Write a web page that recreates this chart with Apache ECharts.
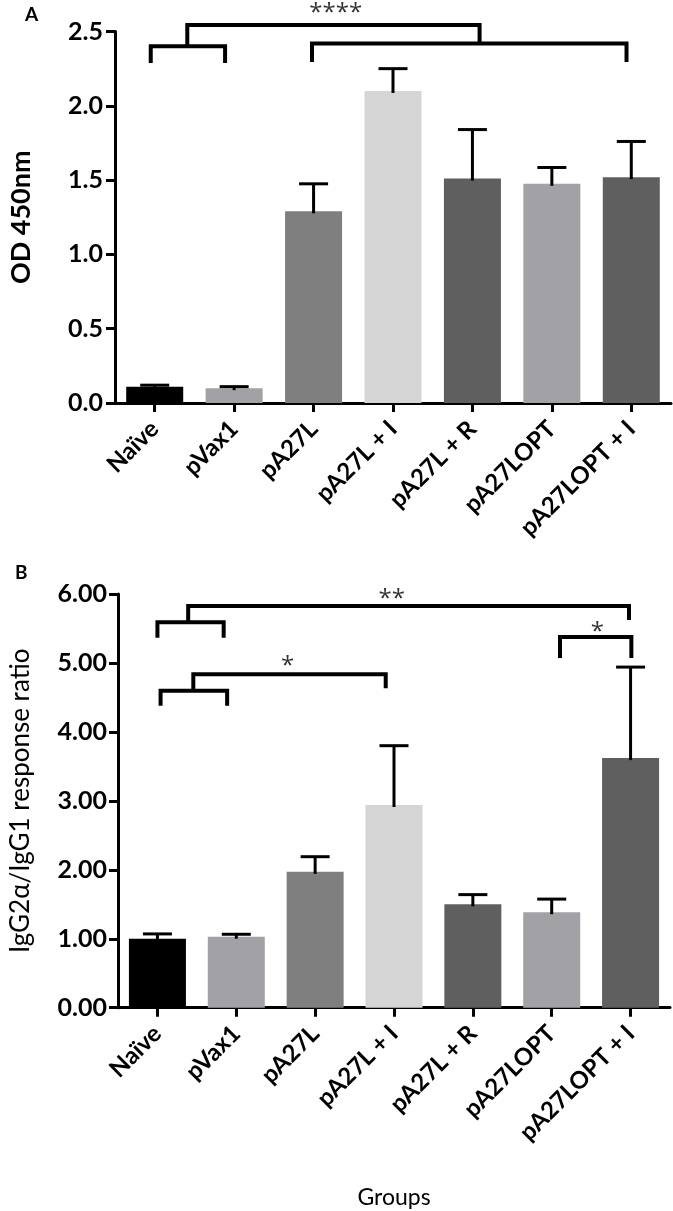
<!DOCTYPE html>
<html><head><meta charset="utf-8">
<script src="https://cdn.jsdelivr.net/npm/echarts@6/dist/echarts.min.js"></script>
<style>html,body{margin:0;padding:0;background:#fff}#c{width:673px;height:1211px}</style>
</head><body><div id="c"></div>
<script>
// ---- data ----
const categories = ['Naïve', 'pVax1', 'pA27L', 'pA27L + I', 'pA27L + R', 'pA27LOPT', 'pA27LOPT + I'];
const odMean = [0.11, 0.10, 1.29, 2.10, 1.51, 1.475, 1.52];
const odErr = [0.01, 0.01, 0.185, 0.15, 0.33, 0.11, 0.24];
const ratioMean = [1.00, 1.03, 1.97, 2.94, 1.50, 1.385, 3.62];
const ratioErr = [0.07, 0.035, 0.22, 0.86, 0.14, 0.19, 1.32];
const odTicks = [0, 0.5, 1.0, 1.5, 2.0, 2.5];
const ratioTicks = [0, 1, 2, 3, 4, 5, 6];
// significance brackets: [fromCategory, toCategory, lineValue, leftLegEnd, rightLegEnd]
const odBrackets = [
  [-0.05, 0.886, 2.40, 2.288, 2.288],
  [1.98, 5.94, 2.42, 2.295, 2.295],
  [0.41, 4.09, 2.544, 2.40, 2.42]
];
const odStars = [[2.28, 2.66, '****']];
const ratioBrackets = [
  [0.39, 5.98, 5.826, 5.59, 5.623],
  [0.0, 0.84, 5.59, 5.366, 5.366],
  [0.455, 2.895, 4.835, 4.595, 4.634],
  [0.04, 0.884, 4.595, 4.38, 4.38],
  [5.105, 6.01, 5.376, 5.07, 5.07]
];
const ratioStars = [[2.97, 6.0, '**'], [1.65, 5.03, '*'], [5.58, 5.52, '*']];
const barColors = ['#000000', '#a2a2a6', '#7f7f7f', '#d5d5d5', '#5f5f5f', '#a2a2a6', '#5f5f5f'];

// ---- chart ----
const FONT = 'Lato, "Open Sans", sans-serif';
const STAR_FONT = '24px "Open Sans", sans-serif';
const chart = echarts.init(document.getElementById('c'), null, {renderer: 'canvas'});

function xAt(api, c, y) {
  const p0 = api.coord([0, y]);
  const p1 = api.coord([1, y]);
  return [p0[0] + c * (p1[0] - p0[0]), p0[1]];
}
function errRender(means, errs) {
  return function (params, api) {
    const i = params.dataIndex;
    const p0 = api.coord([i, means[i]]);
    const p1 = api.coord([i, means[i] + errs[i]]);
    const half = 14.5;
    const st = {stroke: '#000', lineWidth: 3};
    return {type: 'group', children: [
      {type: 'line', shape: {x1: p0[0], y1: p0[1] + 2, x2: p1[0], y2: p1[1]}, style: st},
      {type: 'line', shape: {x1: p1[0] - half, y1: p1[1], x2: p1[0] + half, y2: p1[1]}, style: st}
    ]};
  };
}
function bracketRender(brackets) {
  return function (params, api) {
    const b = brackets[params.dataIndex];
    const a = xAt(api, b[0], b[2]);
    const c = xAt(api, b[1], b[2]);
    const l1 = xAt(api, b[0], b[3]);
    const l2 = xAt(api, b[1], b[4]);
    return {type: 'polyline', shape: {points: [l1, a, c, l2]},
      style: {stroke: '#000', lineWidth: 4, fill: null, lineJoin: 'miter'}};
  };
}
function starRender(stars) {
  return function (params, api) {
    const s = stars[params.dataIndex];
    const p = xAt(api, s[0], s[1]);
    return {type: 'text', x: p[0], y: p[1] + 5,
      style: {text: s[2], font: STAR_FONT, fill: '#333',
        align: 'center', textAlign: 'center', verticalAlign: 'middle', textVerticalAlign: 'middle'}};
  };
}

const axisLineStyle = {lineStyle: {color: '#000', width: 3}};
const tickStyle = {show: true, length: 9, inside: false, lineStyle: {color: '#000', width: 3}};
const xLabel = {interval: 0, rotate: 45, color: '#000', fontFamily: FONT, fontWeight: 'bold', fontSize: 24, margin: 22};

const option = {
  animation: false,
  backgroundColor: '#fff',
  graphic: [
    {type: 'text', left: 25, top: 5, style: {text: 'A', font: 'bold 19px ' + FONT, fill: '#000'}},
    {type: 'text', left: 15, top: 563, style: {text: 'B', font: 'bold 19px ' + FONT, fill: '#000'}}
  ],
  grid: [
    {left: 111, top: 31.5, width: 560, height: 371.5},
    {left: 115, top: 594, width: 555, height: 413.7}
  ],
  xAxis: [
    {type: 'category', gridIndex: 0, data: categories, axisLine: axisLineStyle,
      axisTick: Object.assign({alignWithLabel: true}, tickStyle), axisLabel: xLabel},
    {type: 'category', gridIndex: 1, data: categories, axisLine: axisLineStyle,
      axisTick: Object.assign({alignWithLabel: true}, tickStyle), axisLabel: xLabel,
      name: 'Groups', nameLocation: 'middle', nameGap: 178,
      nameTextStyle: {color: '#000', fontFamily: FONT, fontSize: 23}}
  ],
  yAxis: [
    {type: 'value', gridIndex: 0, min: odTicks[0], max: odTicks[odTicks.length - 1],
      interval: odTicks[1] - odTicks[0], splitLine: {show: false},
      axisLine: Object.assign({show: true}, axisLineStyle), axisTick: tickStyle,
      axisLabel: {color: '#000', fontFamily: FONT, fontWeight: 'bold', fontSize: 25, margin: 12,
        formatter: v => v.toFixed(1)},
      name: 'OD 450nm', nameLocation: 'middle', nameGap: 80,
      nameTextStyle: {color: '#000', fontFamily: FONT, fontWeight: 'bold', fontSize: 27}},
    {type: 'value', gridIndex: 1, min: ratioTicks[0], max: ratioTicks[ratioTicks.length - 1],
      interval: ratioTicks[1] - ratioTicks[0], splitLine: {show: false},
      axisLine: Object.assign({show: true}, axisLineStyle), axisTick: tickStyle,
      axisLabel: {color: '#000', fontFamily: FONT, fontWeight: 'bold', fontSize: 25, margin: 11,
        formatter: v => v.toFixed(2)},
      name: 'IgG2α/IgG1 response ratio', nameLocation: 'middle', nameGap: 84,
      nameTextStyle: {color: '#000', fontFamily: FONT, fontSize: 26}}
  ],
  series: [
    {type: 'bar', xAxisIndex: 0, yAxisIndex: 0, data: odMean, barWidth: 57,
      itemStyle: {color: p => barColors[p.dataIndex]}},
    {type: 'bar', xAxisIndex: 1, yAxisIndex: 1, data: ratioMean, barWidth: 57,
      itemStyle: {color: p => barColors[p.dataIndex]}},
    {type: 'custom', xAxisIndex: 0, yAxisIndex: 0, z: 5, clip: false,
      data: odMean.map((v, i) => [i, v + odErr[i]]), renderItem: errRender(odMean, odErr)},
    {type: 'custom', xAxisIndex: 1, yAxisIndex: 1, z: 5, clip: false,
      data: ratioMean.map((v, i) => [i, v + ratioErr[i]]), renderItem: errRender(ratioMean, ratioErr)},
    {type: 'custom', xAxisIndex: 0, yAxisIndex: 0, z: 6, clip: false,
      data: odBrackets.map((b, i) => [0, b[2]]), renderItem: bracketRender(odBrackets)},
    {type: 'custom', xAxisIndex: 1, yAxisIndex: 1, z: 6, clip: false,
      data: ratioBrackets.map((b, i) => [0, b[2]]), renderItem: bracketRender(ratioBrackets)},
    {type: 'custom', xAxisIndex: 0, yAxisIndex: 0, z: 6, clip: false,
      data: odStars.map(s => [0, s[1]]), renderItem: starRender(odStars)},
    {type: 'custom', xAxisIndex: 1, yAxisIndex: 1, z: 6, clip: false,
      data: ratioStars.map(s => [0, s[1]]), renderItem: starRender(ratioStars)}
  ]
};
chart.setOption(option);
</script>
</body></html>
